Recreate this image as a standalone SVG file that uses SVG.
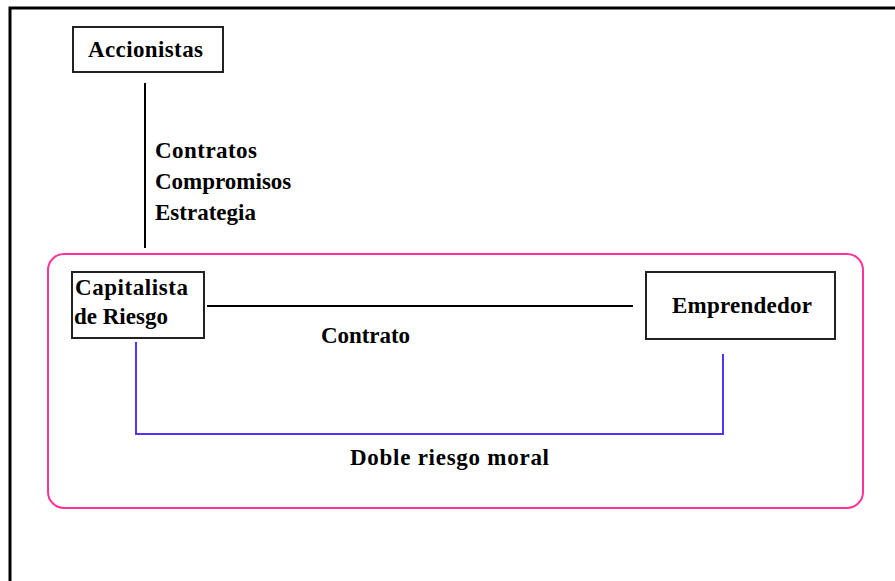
<svg xmlns="http://www.w3.org/2000/svg" width="895" height="581" viewBox="0 0 895 581">
<style>
.box{fill:#fff;stroke:#222;stroke-width:2}
.t{font-family:"Liberation Serif","Times New Roman",serif;font-weight:bold;font-size:23px;fill:#000}
.blk{stroke:#000;stroke-width:2;fill:none}
.blue{stroke:#5533ff;stroke-width:2;fill:none}
</style>
<rect x="0" y="0" width="895" height="581" fill="#fff"/>
<path d="M10,581 V8 H895" fill="none" stroke="#000" stroke-width="3"/>
<g id="grupo">
<rect x="48" y="254" width="815" height="254" rx="16" ry="16" fill="none" stroke="#ff3399" stroke-width="2"/>
</g>
<g id="connectors">
<line class="blk" x1="145" y1="83" x2="145" y2="248"/>
<line class="blk" x1="207" y1="306" x2="633" y2="306"/>
<polyline class="blue" points="136,342 136,434 723,434 723,354"/>
</g>
<g id="labels">
<text class="t" x="155" y="158" textLength="102">Contratos</text>
<text class="t" x="155" y="189">Compromisos</text>
<text class="t" x="155" y="220">Estrategia</text>
<text class="t" x="321" y="343" textLength="89">Contrato</text>
<text class="t" x="350" y="465" textLength="199">Doble riesgo moral</text>
</g>
<g id="accionistas">
<rect class="box" x="73" y="27" width="150" height="45"/>
<text class="t" x="88" y="57" textLength="115">Accionistas</text>
</g>
<g id="capitalista">
<rect class="box" x="72" y="272" width="132" height="66"/>
<text class="t" x="75" y="295" textLength="113">Capitalista</text>
<text class="t" x="74" y="324">de Riesgo</text>
</g>
<g id="emprendedor">
<rect class="box" x="646" y="272" width="189" height="67"/>
<text class="t" x="672" y="313" textLength="140">Emprendedor</text>
</g>
</svg>
